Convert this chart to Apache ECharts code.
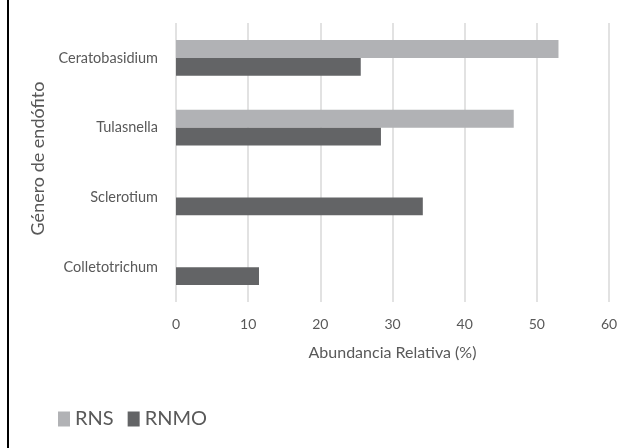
<!DOCTYPE html>
<html>
<head>
<meta charset="utf-8">
<script src="https://cdn.jsdelivr.net/npm/echarts@6/dist/echarts.min.js"></script>
<style>
  html, body { margin: 0; padding: 0; background: #fff; }
  #chart-panel { width: 629px; height: 448px; }
</style>
</head>
<body>
<div id="chart-panel"></div>
<script>
// generos, de arriba hacia abajo
var generos = ['Ceratobasidium', 'Tulasnella', 'Sclerotium', 'Colletotrichum'];
var rns = [53.0, 46.8, 0, 0];
var rnmo = [25.6, 28.4, 34.2, 11.5];
var ticksX = [0, 10, 20, 30, 40, 50, 60];

var gris = '#595959';
var fuente = 'Lato';

var option = {
    backgroundColor: '#fff',
    animation: false,
    textStyle: { fontFamily: fuente, color: gris },
    legend: {
        data: ['RNS', 'RNMO'],
        left: 53,
        top: 404,
        itemWidth: 12,
        itemHeight: 15,
        itemGap: 14,
        icon: 'rect',
        textStyle: { fontFamily: fuente, fontSize: 20, color: gris }
    },
    grid: {
        left: 176,
        right: 20,
        top: 23,
        bottom: 146
    },
    xAxis: {
        type: 'value',
        min: ticksX[0],
        max: ticksX[ticksX.length - 1],
        interval: 10,
        name: 'Abundancia Relativa (%)',
        nameLocation: 'middle',
        nameGap: 43,
        nameTextStyle: { fontSize: 16, color: gris },
        axisLine: { show: false },
        axisTick: { show: false },
        axisLabel: { fontSize: 14, color: gris, margin: 15 },
        splitLine: { lineStyle: { color: '#d9d9d9', width: 1.5 } }
    },
    yAxis: {
        type: 'category',
        data: generos,
        inverse: true,
        name: 'Género de endófito',
        nameLocation: 'middle',
        nameGap: 121,
        nameTextStyle: { fontSize: 18, color: gris, padding: [0, 0, 0, 8] },
        axisLine: { show: false },
        axisTick: { show: false },
        axisLabel: { fontSize: 14.5, color: gris, margin: 18 }
    },
    graphic: [{
        type: 'line',
        shape: { x1: 8, y1: 0, x2: 8, y2: 448 },
        style: { stroke: '#000', lineWidth: 2 }
    }],
    series: [{
        name: 'RNS',
        type: 'bar',
        data: rns,
        barGap: '0%',
        barCategoryGap: '49%',
        itemStyle: { color: '#b1b2b5' }
    }, {
        name: 'RNMO',
        type: 'bar',
        data: rnmo,
        itemStyle: { color: '#636466' }
    }]
};

var myChart = echarts.init(document.getElementById('chart-panel'));
myChart.setOption(option);
</script>
</body>
</html>
